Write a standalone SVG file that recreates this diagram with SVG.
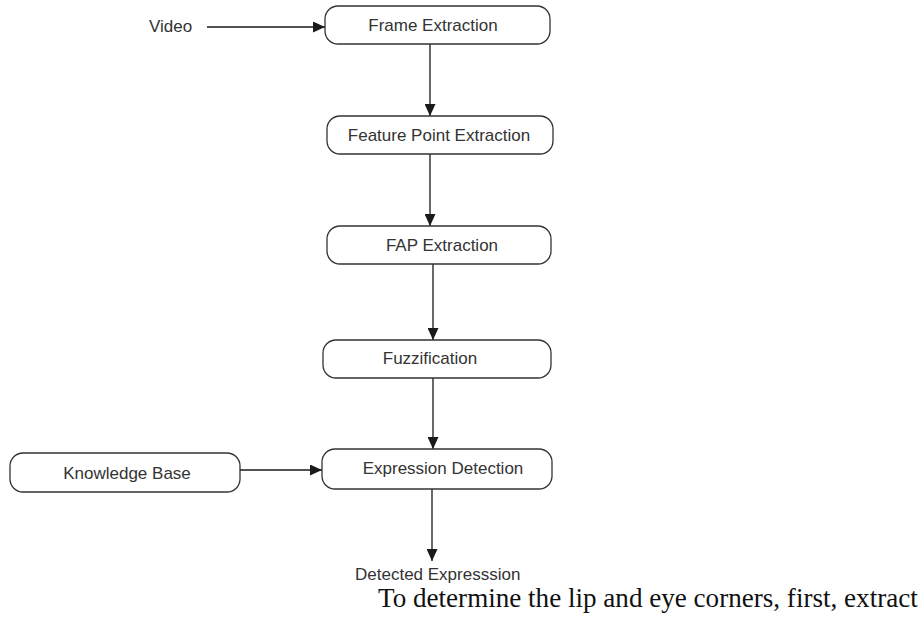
<svg xmlns="http://www.w3.org/2000/svg" width="919" height="621" viewBox="0 0 919 621">
  <defs>
    <marker id="arrow" viewBox="0 0 12 11" refX="12" refY="5.5" markerWidth="12" markerHeight="11" markerUnits="userSpaceOnUse" orient="auto">
      <path d="M0,0 L12,5.5 L0,11 Z" fill="#1a1a1a"/>
    </marker>
  </defs>
  <style>
    .box { fill: #ffffff; stroke: #333333; stroke-width: 1.3; }
    .lbl { font-family: "Liberation Sans", Arial, sans-serif; font-size: 17px; fill: #333333; text-anchor: middle; }
    .free { font-family: "Liberation Sans", Arial, sans-serif; font-size: 17px; fill: #333333; }
    .edge { fill: none; stroke: #1a1a1a; stroke-width: 1.3; marker-end: url(#arrow); }
    .body { font-family: "Liberation Serif", "Times New Roman", serif; font-size: 27.1px; fill: #111111; }
  </style>
  <rect width="919" height="621" fill="#ffffff"/>

  <g id="connectors">
    <line class="edge" x1="207" y1="27" x2="325" y2="27"/>
    <line class="edge" x1="430" y1="44" x2="430" y2="116"/>
    <line class="edge" x1="430" y1="154" x2="430" y2="226"/>
    <line class="edge" x1="433" y1="264" x2="433" y2="340"/>
    <line class="edge" x1="433" y1="378" x2="433" y2="449"/>
    <line class="edge" x1="240" y1="470" x2="322" y2="470"/>
    <line class="edge" x1="432" y1="489" x2="432" y2="561"/>
  </g>

  <g id="video">
    <text class="free" x="149" y="32">Video</text>
  </g>
  <g id="frame-extraction">
    <rect class="box" x="325" y="6" width="225" height="38" rx="13"/>
    <text class="lbl" x="433" y="31">Frame Extraction</text>
  </g>
  <g id="feature-point-extraction">
    <rect class="box" x="327" y="116" width="226" height="38" rx="13"/>
    <text class="lbl" x="439" y="141">Feature Point Extraction</text>
  </g>
  <g id="fap-extraction">
    <rect class="box" x="327" y="226" width="224" height="38" rx="13"/>
    <text class="lbl" x="442" y="251">FAP Extraction</text>
  </g>
  <g id="fuzzification">
    <rect class="box" x="323" y="340" width="228" height="38" rx="13"/>
    <text class="lbl" x="430" y="364">Fuzzification</text>
  </g>
  <g id="knowledge-base">
    <rect class="box" x="10" y="453" width="230" height="39" rx="13"/>
    <text class="lbl" x="127" y="479">Knowledge Base</text>
  </g>
  <g id="expression-detection">
    <rect class="box" x="322" y="449" width="230" height="40" rx="13"/>
    <text class="lbl" x="443" y="474">Expression Detection</text>
  </g>
  <g id="detected-expression">
    <text class="free" x="355" y="580" font-size="15.5">Detected Expresssion</text>
  </g>

  <text class="body" x="378" y="607">To determine the lip and eye corners, first, extract</text>
</svg>
